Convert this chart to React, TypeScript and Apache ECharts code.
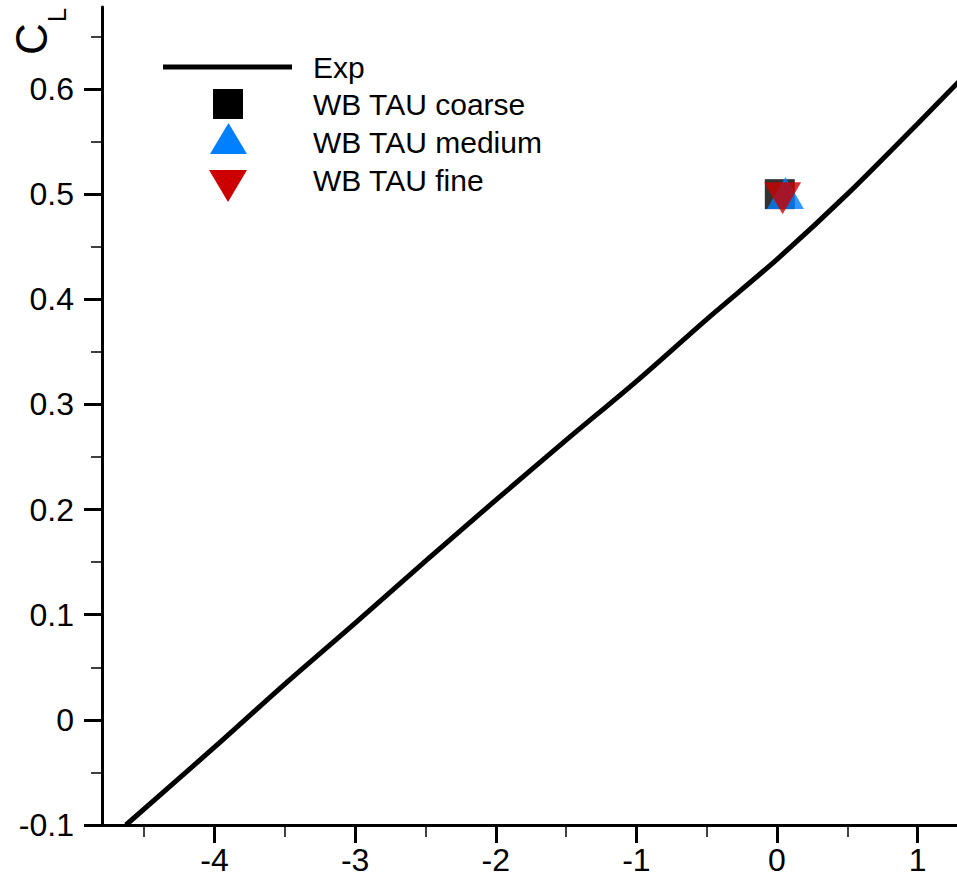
import React, { useEffect, useRef } from "react";
import * as echarts from "echarts";

// Experimental C_L curve (alpha, C_L)
const expAlpha = [-4.63, -4.0, -3.5, -3.0, -2.5, -2.0, -1.5, -1.0, -0.5, 0.0, 0.5, 1.0, 1.3];
const expCL = [-0.1, -0.026, 0.034, 0.092, 0.151, 0.209, 0.266, 0.322, 0.381, 0.438, 0.5, 0.567, 0.608];

// TAU results
const coarse = [[0.02, 0.5]];
const medium = [[0.06, 0.501]];
const fine = [[0.04, 0.496]];

const seriesNames = ["Exp", "WB TAU coarse", "WB TAU medium", "WB TAU fine"];

const xMajor = [-4, -3, -2, -1, 0, 1];
const xMinor = [-4.5, -3.5, -2.5, -1.5, -0.5, 0.5];
const yMajor = [-0.1, 0, 0.1, 0.2, 0.3, 0.4, 0.5, 0.6];
const yMinor = [-0.05, 0.05, 0.15, 0.25, 0.35, 0.45, 0.55, 0.65];

const FONT = "Liberation Sans";
const BLUE = "#0080ff";
const RED = "#cc0000";

export default function App() {
  const ref = useRef<HTMLDivElement>(null);
  useEffect(() => {
    if (!ref.current) return;
    const chart = echarts.init(ref.current, undefined, { renderer: "svg" });
    const xMin = -4.8, xMax = 1.28, yMin = -0.1, yMax = 0.678;
    const baseX = {
      type: "value",
      min: xMin,
      max: xMax,
      position: "bottom",
      splitLine: { show: false },
    };
    const baseY = {
      type: "value",
      min: yMin,
      max: yMax,
      position: "left",
      splitLine: { show: false },
    };
    chart.setOption({
      animation: false,
      backgroundColor: "#fff",
      grid: { left: 102, right: 0, top: 7, bottom: 53, containLabel: false },
      xAxis: [
        {
          ...baseX,
          axisLine: { show: true, onZero: false, lineStyle: { color: "#000", width: 3 } },
          axisTick: { show: true, inside: false, length: 18, customValues: xMajor, lineStyle: { color: "#000", width: 3 } },
          axisLabel: {
            customValues: xMajor,
            fontSize: 32,
            fontFamily: FONT,
            color: "#000",
            margin: 19,
            formatter: (v: number) => String(Math.round(v)),
          },
        },
        {
          ...baseX,
          axisLine: { show: false, onZero: false },
          axisTick: { show: true, inside: false, length: 12, customValues: xMinor, lineStyle: { color: "#000", width: 1.5 } },
          axisLabel: { show: false },
        },
      ],
      yAxis: [
        {
          ...baseY,
          axisLine: { show: true, onZero: false, lineStyle: { color: "#000", width: 3 } },
          axisTick: { show: true, inside: false, length: 18, customValues: yMajor, lineStyle: { color: "#000", width: 3 } },
          axisLabel: {
            customValues: yMajor,
            fontSize: 32,
            fontFamily: FONT,
            color: "#000",
            margin: 28,
            formatter: (v: number) => String(Math.round(v * 10) / 10),
          },
        },
        {
          ...baseY,
          axisLine: { show: false, onZero: false },
          axisTick: { show: true, inside: false, length: 11, customValues: yMinor, lineStyle: { color: "#000", width: 1.5 } },
          axisLabel: { show: false },
        },
      ],
      series: [
        {
          name: seriesNames[0],
          type: "line",
          data: expAlpha.map((a, i) => [a, expCL[i]]),
          showSymbol: false,
          symbol: "none",
          smooth: 0.3,
          clip: true,
          lineStyle: { color: "#000", width: 5 },
          z: 2,
        },
        {
          name: seriesNames[1],
          type: "scatter",
          data: coarse,
          symbol: "rect",
          symbolSize: 30,
          itemStyle: { color: "#000" },
          z: 3,
        },
        {
          name: seriesNames[2],
          type: "scatter",
          data: medium,
          symbol: "triangle",
          symbolSize: [37, 32],
          itemStyle: { color: BLUE },
          z: 4,
        },
        {
          name: seriesNames[3],
          type: "scatter",
          data: fine,
          symbol: "triangle",
          symbolRotate: 180,
          symbolSize: [37, 32],
          itemStyle: { color: RED },
          z: 5,
        },
      ],
      graphic: [
        // axis title C_L (rotated)
        {
          type: "text",
          x: 31,
          y: 39,
          rotation: Math.PI / 2,
          style: { text: "C", fontSize: 44, fontFamily: FONT, fill: "#000", align: "center", verticalAlign: "middle" },
        },
        {
          type: "text",
          x: 57,
          y: 15,
          rotation: Math.PI / 2,
          style: { text: "L", fontSize: 26, fontFamily: FONT, fill: "#000", align: "center", verticalAlign: "middle" },
        },
        // legend
        { type: "line", shape: { x1: 163, y1: 67, x2: 292, y2: 67 }, style: { stroke: "#000", lineWidth: 5 } },
        { type: "rect", shape: { x: 213, y: 89, width: 30, height: 30 }, style: { fill: "#000" } },
        { type: "polygon", shape: { points: [[210, 154], [247, 154], [228.5, 123]] }, style: { fill: BLUE } },
        { type: "polygon", shape: { points: [[209, 170], [247, 170], [228, 202]] }, style: { fill: RED } },
        ...seriesNames.map((n, i) => ({
          type: "text",
          x: 313,
          y: [67, 104, 142, 180][i],
          style: { text: n, fontSize: 30, fontFamily: FONT, fill: "#000", align: "left", verticalAlign: "middle" },
        })),
      ],
    });
    return () => chart.dispose();
  }, []);
  return <div ref={ref} style={{ position: "absolute", left: 0, top: 0, width: 957, height: 878 }} />;
}
